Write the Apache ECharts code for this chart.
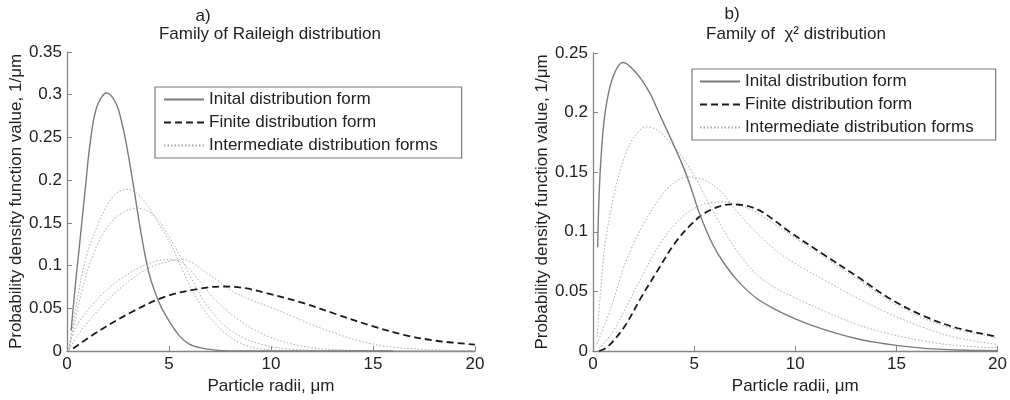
<!DOCTYPE html>
<html>
<head>
<meta charset="utf-8">
<script src="https://cdn.jsdelivr.net/npm/echarts@6/dist/echarts.min.js"></script>
<style>
html,body{margin:0;padding:0;background:#fff;}
#c{width:1010px;height:400px;}
</style>
</head>
<body>
<div id="c"></div>
<script>
// ---- Data ----
const xTicks = [0, 5, 10, 15, 20];
const legendNames = ['Inital distribution form', 'Finite distribution form', 'Intermediate distribution forms'];

// a) Family of Raileigh distribution
const raInitial = [[0.2,0.024],[0.4,0.075],[0.6,0.121],[0.93,0.198],[1.1,0.237],[1.45,0.285],[1.95,0.302],[2.4,0.29],[2.7,0.266],[2.95,0.237],[3.28,0.19],[3.6,0.142],[4.0,0.093],[4.44,0.061],[4.85,0.041],[5.5,0.018],[6.0,0.008],[6.5,0.004],[7.3,0.001],[8,0.0002],[10,0],[16,0]];
const raFinite = [[0.3,0.003],[1.6,0.024],[3.2,0.046],[4.85,0.064],[6.5,0.073],[7.6,0.0755],[8.6,0.074],[9.75,0.068],[11.6,0.056],[13.2,0.043],[14.85,0.030],[16.5,0.019],[18.1,0.012],[20,0.0075]];
const raInter1 = [[0.1,0.003],[0.5,0.06],[0.93,0.109],[1.58,0.152],[2.07,0.175],[2.5,0.186],[2.94,0.189],[3.4,0.185],[3.87,0.173],[4.52,0.148],[5.18,0.121],[5.67,0.094],[6.32,0.063],[6.98,0.04],[7.8,0.02],[8.77,0.0066],[10.1,0.001],[12,0],[20,0]];
const raInter2 = [[0.1,0.002],[0.77,0.074],[1.42,0.121],[2.07,0.148],[2.73,0.162],[3.46,0.167],[4.2,0.16],[4.85,0.14],[5.5,0.113],[6.16,0.082],[6.81,0.055],[7.63,0.032],[8.6,0.016],[9.75,0.0066],[11,0.002],[13,0.0003],[20,0]];
const raInter3 = [[0.1,0.002],[0.44,0.028],[1.58,0.063],[2.73,0.086],[3.87,0.101],[4.85,0.107],[5.67,0.103],[6.49,0.082],[7.3,0.059],[8.45,0.036],[9.75,0.018],[11.7,0.005],[14,0.001],[20,0]];
const raInter4 = [[0.1,0.001],[0.5,0.018],[1,0.033],[2,0.06],[3,0.081],[4,0.097],[5,0.105],[5.7,0.107],[6.3,0.101],[6.8,0.092],[7.5,0.081],[8.1,0.07],[9,0.06],[10,0.051],[11,0.041],[12,0.031],[13,0.022],[14,0.014],[15,0.008],[16,0.0045],[17,0.0025],[18,0.0012],[20,0.0003]];

// b) Family of chi^2 distribution
const chiInitial = [[0.23,0.087],[0.3,0.13],[0.42,0.168],[0.6,0.2],[0.95,0.228],[1.48,0.242],[2.1,0.234],[2.79,0.217],[3.28,0.199],[3.93,0.175],[4.5,0.153],[4.9,0.134],[5.25,0.116],[5.9,0.09],[6.5,0.073],[7.2,0.058],[8.1,0.044],[9,0.035],[10,0.027],[11,0.0205],[12,0.015],[13,0.0105],[14,0.0072],[15,0.0047],[16.4,0.0022],[18,0.0009],[20,0.0003]];
const chiFinite = [[0.3,0],[0.6,0.002],[0.93,0.007],[1.58,0.021],[2.4,0.0455],[3.21,0.068],[4.03,0.09],[4.84,0.106],[5.66,0.117],[6.8,0.123],[8.1,0.119],[9.8,0.099],[11.4,0.081],[13.1,0.062],[14.77,0.043],[16.4,0.029],[18,0.0193],[20,0.012]];
const chiInter1 = [[0.2,0.012],[0.4,0.055],[0.6,0.09],[1.09,0.135],[1.58,0.164],[2.1,0.181],[2.64,0.188],[3.1,0.186],[3.6,0.179],[4.35,0.164],[5.0,0.147],[5.66,0.126],[6.47,0.101],[7.29,0.08],[8.1,0.064],[9.0,0.053],[9.88,0.0455],[11.5,0.033],[13.1,0.022],[14.77,0.0138],[16.4,0.0083],[18,0.0045],[20,0.0027]];
const chiInter2 = [[0.2,0.006],[0.6,0.023],[1.0,0.042],[1.58,0.073],[2.4,0.1035],[3.21,0.126],[3.86,0.139],[4.68,0.146],[5.49,0.1435],[6.31,0.134],[7.12,0.117],[8.1,0.099],[9.0,0.085],[9.88,0.0745],[11.5,0.059],[13.1,0.044],[14.77,0.0304],[16.4,0.0193],[18,0.011],[20,0.0055]];
const chiInter3 = [[0.3,0.002],[0.93,0.015],[1.58,0.035],[2.4,0.062],[3.21,0.087],[4.03,0.106],[4.84,0.118],[5.66,0.124],[6.47,0.125],[7.29,0.122],[8.1,0.116],[9.8,0.097],[11.4,0.079],[13.1,0.06],[14.77,0.041],[16.4,0.027],[18,0.018],[20,0.011]];

// ---- Styling ----
const FONT = '"Liberation Sans", Arial, sans-serif';
const TXT = '#222';
const AX = '#858585';
const FS = 17;

const solidStyle = {color:'#7c7c7c', width:1.4, type:'solid'};
const dashStyle = {color:'#1c1c1c', width:1.8, type:[7,4]};
const dotStyle = {color:'#a9a9a9', width:1, type:[1.5,2]};

function mk(name, data, style, idx) {
  return {
    name: name, type:'line', data: data, xAxisIndex: idx, yAxisIndex: idx,
    showSymbol:false, symbol:'none', smooth:0.35, lineStyle: style,
    itemStyle:{color: style.color}, silent:true, animation:false
  };
}

function xAx(idx) {
  return {
    type:'value', gridIndex: idx, min:0, max:20, interval:5,
    name:'Particle radii, μm', nameLocation:'middle', nameGap:27,
    nameTextStyle:{color:TXT, fontSize:FS, fontFamily:FONT},
    axisLine:{show:true, lineStyle:{color:AX, width:1.3}},
    axisTick:{show:true, inside:true, length:5, lineStyle:{color:AX}},
    axisLabel:{color:TXT, fontSize:FS, fontFamily:FONT, margin:5},
    splitLine:{show:false}
  };
}
function yAx(idx, max) {
  return {
    type:'value', gridIndex: idx, min:0, max:max, interval:0.05,
    name:'Probability density function value, 1/μm', nameLocation:'middle', nameGap:42,
    nameTextStyle:{color:TXT, fontSize:FS, fontFamily:FONT},
    axisLine:{show:true, lineStyle:{color:AX, width:1.3}},
    axisTick:{show:true, inside:true, length:5, lineStyle:{color:AX}},
    axisLabel:{color:TXT, fontSize:FS, fontFamily:FONT, margin:5},
    splitLine:{show:false}
  };
}

function legendAt(left, top, pad) {
  return {
    data: legendNames, orient:'vertical', left:left, top:top,
    itemWidth:40, itemHeight:14, itemGap:6, itemTextGap:5,
    padding: pad, borderColor:'#7a7a7a', borderWidth:1.2, backgroundColor:'#fff',
    textStyle:{color:TXT, fontSize:FS, fontFamily:FONT},
    itemStyle:{opacity:0, borderWidth:0, color:'rgba(0,0,0,0)', borderColor:'rgba(0,0,0,0)'},
    selectedMode:false, icon:'inherit'
  };
}

const chart = echarts.init(document.getElementById('c'), null, {renderer:'canvas'});
chart.setOption({
  animation:false,
  backgroundColor:'#fff',
  grid:[
    {left:67, top:52, width:408, height:302},
    {left:593, top:53, width:409, height:302}
  ],
  xAxis:[xAx(0), xAx(1)],
  yAxis:[yAx(0, 0.35), yAx(1, 0.25)],
  legend:[
    legendAt(155, 87, [4, 24, 4, 8]),
    legendAt(692, 69, [4, 22, 4, 7])
  ],
  graphic:[
    {type:'text', x:203, y:16, style:{text:'a)', fill:TXT, font:FS+'px '+FONT, textAlign:'center', textVerticalAlign:'middle'}},
    {type:'text', x:270, y:34, style:{text:'Family of Raileigh distribution', fill:TXT, font:FS+'px '+FONT, textAlign:'center', textVerticalAlign:'middle'}},
    {type:'text', x:732, y:14, style:{text:'b)', fill:TXT, font:FS+'px '+FONT, textAlign:'center', textVerticalAlign:'middle'}},
    {type:'text', x:796, y:34, style:{text:'Family of  χ² distribution', fill:TXT, font:FS+'px '+FONT, textAlign:'center', textVerticalAlign:'middle'}}
  ],
  series:[
    mk(legendNames[2], raInter1, dotStyle, 0),
    mk(legendNames[2], raInter2, dotStyle, 0),
    mk(legendNames[2], raInter3, dotStyle, 0),
    mk(legendNames[2], raInter4, dotStyle, 0),
    mk(legendNames[1], raFinite, dashStyle, 0),
    mk(legendNames[0], raInitial, solidStyle, 0),
    mk(legendNames[2], chiInter1, dotStyle, 1),
    mk(legendNames[2], chiInter2, dotStyle, 1),
    mk(legendNames[2], chiInter3, dotStyle, 1),
    mk(legendNames[1], chiFinite, dashStyle, 1),
    mk(legendNames[0], chiInitial, solidStyle, 1)
  ]
});
</script>
</body>
</html>
